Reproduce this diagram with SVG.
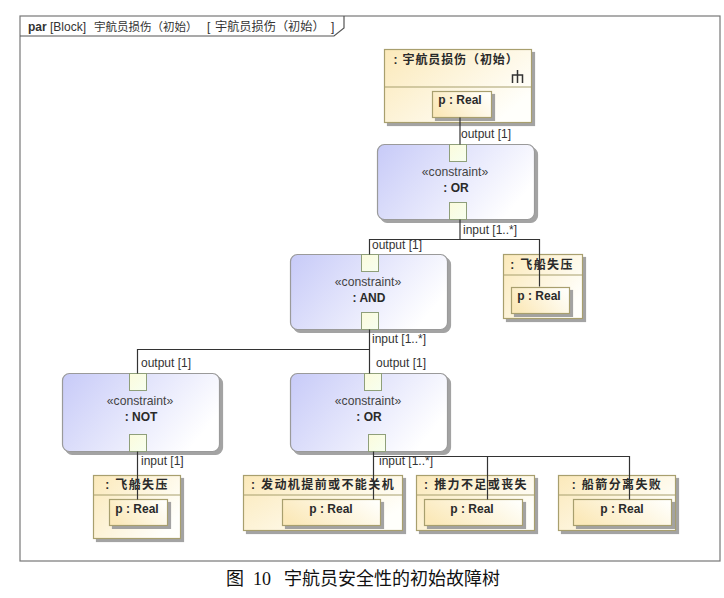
<svg xmlns="http://www.w3.org/2000/svg" width="724" height="598" viewBox="0 0 724 598">
<style>
text{font-family:"Liberation Sans","Noto Sans CJK SC",sans-serif;fill:#333}
.lbl{font-size:12px}
.b{font-weight:bold;font-size:12px;text-anchor:middle;fill:#2a2a2a}
.n{letter-spacing:1.4px}
.st{font-size:12.2px;text-anchor:middle;fill:#444}
.block{fill:url(#y);stroke:#a89f6e;stroke-width:1.2;filter:url(#s)}
.part{fill:url(#y2);stroke:#a89f6e;stroke-width:1.2;filter:url(#s)}
.div{stroke:#a89f6e;stroke-width:1.2}
.con{fill:url(#v);stroke:#9a9a9a;stroke-width:1.2;filter:url(#s)}
.port{fill:url(#p);stroke:#8f9f7a;stroke-width:1}
.c{fill:none;stroke:#333;stroke-width:1.2}
.cap{font-size:18px;fill:#111;font-family:"Noto Sans CJK SC",sans-serif}
</style>
<defs>
<linearGradient id="y" x1="0" y1="0" x2="1" y2="0.6"><stop offset="0" stop-color="#fbe9ba"/><stop offset="1" stop-color="#fffffb"/></linearGradient>
<linearGradient id="y2" x1="0" y1="0.6" x2="1" y2="0.2"><stop offset="0" stop-color="#fbe9ba"/><stop offset="1" stop-color="#fffffb"/></linearGradient>
<linearGradient id="v" x1="0" y1="0.1" x2="1" y2="0.5"><stop offset="0" stop-color="#c9ccf8"/><stop offset="1" stop-color="#ffffff"/></linearGradient>
<linearGradient id="p" x1="0" y1="0" x2="1" y2="1"><stop offset="0" stop-color="#fbfbdc"/><stop offset="1" stop-color="#f7fff0"/></linearGradient>
<filter id="s" x="-5%" y="-5%" width="115%" height="115%"><feDropShadow dx="3" dy="3" stdDeviation="0.7" flood-color="#999" flood-opacity="0.9"/></filter>
</defs>
<rect width="724" height="598" fill="#fff"/>
<g id="frame">
<rect x="20" y="16" width="700" height="545" fill="none" stroke="#777" stroke-width="1.2"/>
<path d="M20 36H334L344 28V16" fill="none" stroke="#555" stroke-width="1.2"/>
<text x="28" y="31" font-size="12"><tspan font-weight="bold">par</tspan> [Block]</text>
<text x="94" y="31" font-size="11.5">宇航员损伤（初始）</text>
<text x="207" y="31" font-size="12">[</text>
<text x="215" y="31" font-size="12.2">宇航员损伤（初始）</text>
<text x="331" y="31" font-size="12">]</text>
</g>
<g id="n-top">
<rect class="block" x="384.500" y="49.500" width="147" height="73"/>
<line class="div" x1="384.500" y1="87" x2="531.500" y2="87"/>
<text class="b" x="456" y="64" style="letter-spacing:.9px">: 宇航员损伤（初始）</text>
<path d="M512.500 83V75H522.500V83M517.500 70V83" fill="none" stroke="#333" stroke-width="1.5"/>
<rect class="part" x="432.500" y="91.500" width="59" height="26"/>
<text class="b" x="460" y="104">p : Real</text>
</g>
<g id="n-or1">
<rect class="con" x="377.500" y="144.500" width="157" height="75" rx="7"/>
<rect class="port" x="449.500" y="144.500" width="17" height="17"/>
<rect class="port" x="449.500" y="202.500" width="17" height="17"/>
<text class="st" x="455" y="176">«constraint»</text>
<text class="b" x="456" y="192">: OR</text>
</g>
<g id="n-and">
<rect class="con" x="290.500" y="254.500" width="157" height="75" rx="7"/>
<rect class="port" x="361.500" y="254.500" width="17" height="17"/>
<rect class="port" x="361.500" y="312.500" width="17" height="17"/>
<text class="st" x="368" y="286">«constraint»</text>
<text class="b" x="369" y="302">: AND</text>
</g>
<g id="n-loss1">
<rect class="block" x="503.500" y="254.500" width="79" height="64"/>
<line class="div" x1="503.500" y1="275" x2="582.500" y2="275"/>
<text class="b n" x="542" y="269">: 飞船失压</text>
<rect class="part" x="511.500" y="287.500" width="58" height="26"/>
<text class="b" x="539" y="300">p : Real</text>
</g>
<g id="n-not">
<rect class="con" x="62.500" y="373.500" width="157" height="78" rx="7"/>
<rect class="port" x="129.500" y="373.500" width="17" height="17"/>
<rect class="port" x="129.500" y="434.500" width="17" height="17"/>
<text class="st" x="140" y="405">«constraint»</text>
<text class="b" x="141" y="421">: NOT</text>
</g>
<g id="n-or2">
<rect class="con" x="290.500" y="373.500" width="157" height="78" rx="7"/>
<rect class="port" x="364.500" y="373.500" width="17" height="17"/>
<rect class="port" x="368.500" y="434.500" width="17" height="17"/>
<text class="st" x="368" y="405">«constraint»</text>
<text class="b" x="369" y="421">: OR</text>
</g>
<g id="n-loss2">
<rect class="block" x="93.500" y="475.500" width="87" height="63"/>
<line class="div" x1="93.500" y1="495" x2="180.500" y2="495"/>
<text class="b n" x="137" y="489">: 飞船失压</text>
<rect class="part" x="109.500" y="499.500" width="58" height="26"/>
<text class="b" x="137" y="513">p : Real</text>
</g>
<g id="n-engine">
<rect class="block" x="243.500" y="475.500" width="159" height="55"/>
<line class="div" x1="243.500" y1="495" x2="402.500" y2="495"/>
<text class="b n" x="323" y="489">: 发动机提前或不能关机</text>
<rect class="part" x="282.500" y="499.500" width="98" height="26"/>
<text class="b" x="331" y="513">p : Real</text>
</g>
<g id="n-thrust">
<rect class="block" x="416.500" y="475.500" width="118" height="55"/>
<line class="div" x1="416.500" y1="495" x2="534.500" y2="495"/>
<text class="b n" x="476" y="489">: 推力不足或丧失</text>
<rect class="part" x="424.500" y="499.500" width="98" height="26"/>
<text class="b" x="472" y="513">p : Real</text>
</g>
<g id="n-sep">
<rect class="block" x="558.500" y="475.500" width="117" height="55"/>
<line class="div" x1="558.500" y1="495" x2="675.500" y2="495"/>
<text class="b n" x="617" y="489">: 船箭分离失败</text>
<rect class="part" x="573.500" y="499.500" width="98" height="26"/>
<text class="b" x="622" y="513">p : Real</text>
</g>
<g id="connectors">
<path class="c" d="M460 117.500V144.500"/>
<path class="c" d="M460 219.500V239.500"/>
<path class="c" d="M369.500 254.500V239.500H539.500V286.500"/>
<path class="c" d="M369.500 329.500V373.500"/>
<path class="c" d="M137.500 373.500V349.500H369.500"/>
<path class="c" d="M137.500 451.500V499.500"/>
<path class="c" d="M373.500 451.500V499.500"/>
<path class="c" d="M373.500 456.500H629.500V499.500"/>
<path class="c" d="M487.500 456.500V499.500"/>
</g>
<g id="labels">
<text class="lbl" x="461" y="138">output [1]</text>
<text class="lbl" x="463" y="234">input [1..*]</text>
<text class="lbl" x="372" y="249">output [1]</text>
<text class="lbl" x="372" y="343">input [1..*]</text>
<text class="lbl" x="376" y="367">output [1]</text>
<text class="lbl" x="141" y="367">output [1]</text>
<text class="lbl" x="141" y="465">input [1]</text>
<text class="lbl" x="379" y="465">input [1..*]</text>
</g>
<text class="cap" x="226" y="585">图</text>
<text class="cap" x="253" y="585" style="font-family:'Liberation Serif',serif">10</text>
<text class="cap" x="284" y="585">宇航员安全性的初始故障树</text>
</svg>
